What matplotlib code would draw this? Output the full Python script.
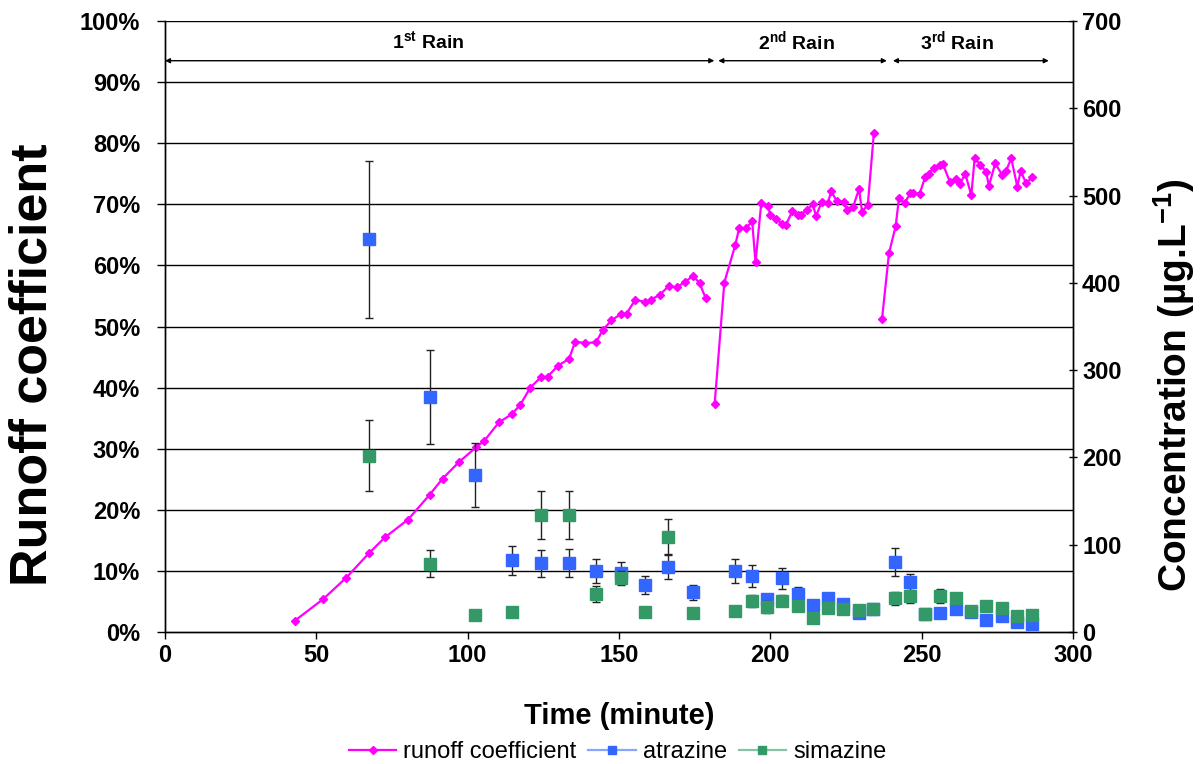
import numpy as np
import matplotlib
matplotlib.use("Agg")
import matplotlib.pyplot as plt
from matplotlib.lines import Line2D

plt.rcParams['font.family'] = ['Liberation Sans', 'DejaVu Sans']
plt.rcParams['mathtext.fontset'] = 'custom'
plt.rcParams['mathtext.rm'] = 'Liberation Sans'
plt.rcParams['mathtext.bf'] = 'Liberation Sans:bold'

# ---- runoff coefficient (%), three rain events ----
rain1_t = [42.9, 52.3, 59.9, 67.4, 72.7, 80.3, 87.5, 91.7, 97.1, 102.7, 105.5, 110.3, 114.7, 117.4,
           120.7, 124.2, 126.4, 129.9, 133.5, 135.5, 138.9, 142.4, 144.6, 147.5, 150.5, 152.5, 155.4,
           158.5, 160.6, 163.5, 166.4, 169.0, 171.8, 174.5, 176.6, 178.6]
rain1_rc = [1.85, 5.4, 8.9, 12.9, 15.5, 18.4, 22.5, 25.1, 27.8, 30.2, 31.3, 34.3, 35.7, 37.2,
            40.0, 41.7, 41.8, 43.6, 44.7, 47.5, 47.3, 47.4, 49.4, 51.0, 52.0, 52.1, 54.4,
            54.0, 54.4, 55.2, 56.6, 56.4, 57.3, 58.3, 57.1, 54.7]
rain2_t = [181.6, 184.8, 188.4, 189.7, 192.0, 194.0, 195.1, 197.0, 199.1, 200.0, 202.0, 203.9, 205.1,
           207.3, 209.0, 210.1, 212.1, 214.0, 215.1, 217.0, 219.0, 220.1, 221.9, 224.2, 225.3, 227.3,
           229.3, 230.3, 232.2, 234.2]
rain2_rc = [37.3, 57.2, 63.3, 66.1, 66.1, 67.2, 60.5, 70.2, 69.8, 68.3, 67.6, 66.8, 66.6,
            68.9, 68.3, 68.3, 69.1, 70.0, 68.1, 70.4, 70.2, 72.1, 70.6, 70.4, 69.1, 69.5,
            72.5, 68.8, 69.9, 81.6]
rain3_t = [236.9, 239.2, 241.4, 242.5, 244.4, 246.2, 247.3, 249.3, 251.2, 252.3, 254.2, 255.9, 257.0,
           259.3, 261.5, 262.6, 264.4, 266.4, 267.5, 269.4, 271.3, 272.2, 274.3, 276.6, 277.8, 279.6,
           281.6, 282.7, 284.5, 286.6]
rain3_rc = [51.2, 62.0, 66.4, 71.0, 70.2, 71.8, 71.9, 71.7, 74.5, 75.0, 76.0, 76.4, 76.6,
            73.7, 74.1, 73.3, 75.0, 71.5, 77.5, 76.5, 75.3, 73.0, 76.7, 74.8, 75.4, 77.5,
            72.9, 75.4, 73.5, 74.4]

# ---- concentrations (ug/L) ----
conc_t = [67.4, 87.5, 102.5, 114.6, 124.1, 133.4, 142.4, 150.5, 158.5, 166.3, 174.5, 188.3, 193.8,
          199.0, 203.7, 209.0, 214.0, 218.9, 224.1, 229.2, 234.0, 241.2, 246.1, 251.0, 256.0, 261.2,
          266.3, 271.2, 276.4, 281.4, 286.3]
atrazine = [450, 269, 180, 82, 79, 79, 70, 68, 53.5, 75, 45.5, 70, 64,
            38, 61.5, 44, 30.5, 39, 32, 21.5, 26, 80.5, 57, 20.5, 22, 26,
            23, 14, 18, 11, 9]
atrazine_err = [90, 54, 37, 16.5, 15.5, 16, 14, 12, 10.5, 14, 8.5, 14, 12.5,
                3, 12, 7.5, 2, 6, 2, 2, 2, 16, 10, 2, 2, 2,
                2, 2, 2, 2, 2]
simazine = [202, 78, 19.5, 22.5, 134, 134, 43.5, 61.5, 23, 109, 21.5, 24, 35.5,
            28.5, 36, 29.5, 16, 28, 26, 25, 26, 38.5, 41, 20.5, 41, 39,
            24.5, 30, 27.5, 18, 19.5]
simazine_err = [40.5, 15.5, 2, 2, 27, 27, 9.5, 8, 2, 21, 2, 2, 7,
                7, 6.5, 5, 2, 5, 2, 2, 2, 7.5, 7.5, 2, 8, 6,
                2, 2, 2, 2, 2]

rain_labels = ['1$^{\\mathbf{st}}$ Rain', '2$^{\\mathbf{nd}}$ Rain', '3$^{\\mathbf{rd}}$ Rain']
rain_spans = [(0, 181.5), (182.8, 238.5), (240.5, 292.0)]
rain_text_x = [87, 208.5, 261.6]

MAGENTA = '#FF00FF'
BLUE = '#3366FF'
GREEN = '#339966'

fig = plt.figure(figsize=(12.04, 7.64), dpi=100)
ax = fig.add_axes([165/1204, 1-632/764, (1073-165)/1204, (632-21)/764])
ax2 = ax.twinx()

# line with gaps between rains
t_all = rain1_t + [np.nan] + rain2_t + [np.nan] + rain3_t
rc_all = rain1_rc + [np.nan] + rain2_rc + [np.nan] + rain3_rc
ax.plot(t_all, rc_all, color=MAGENTA, lw=1.6, marker='D', ms=4, mec=MAGENTA, mfc=MAGENTA, zorder=3)

ax.set_xlim(0, 300)
ax.set_ylim(0, 100)
ax.set_yticks(np.arange(0, 101, 10))
ax.set_yticklabels([f'{v}%' for v in range(0, 101, 10)])
ax.set_xticks(np.arange(0, 301, 50))
for y in range(10, 101, 10):
    ax.axhline(y, color='black', lw=1.0, zorder=1)

ax2.set_ylim(0, 700)
ax2.set_yticks(np.arange(0, 701, 100))

ax2.errorbar(conc_t, atrazine, yerr=atrazine_err, fmt='s', color=BLUE, ms=8, mec=BLUE,
             ecolor='#222222', elinewidth=1.0, capsize=2.8, capthick=1.0, zorder=4)
ax2.errorbar(conc_t, simazine, yerr=simazine_err, fmt='s', color=GREEN, ms=8, mec=GREEN,
             ecolor='#222222', elinewidth=1.0, capsize=2.8, capthick=1.0, zorder=5)

for a in (ax, ax2):
    a.spines['top'].set_visible(False)
    for s in ('left', 'right', 'bottom'):
        a.spines[s].set_linewidth(1.0)
        a.spines[s].set_color('black')

ax.tick_params(axis='x', labelsize=17, width=1, length=5, direction='out', pad=3.5)
ax.tick_params(axis='y', labelsize=17, width=1, length=6, direction='out', pad=12)
ax2.tick_params(axis='y', labelsize=17, width=1, length=6, direction='inout')
for lab in ax.get_xticklabels() + ax.get_yticklabels() + ax2.get_yticklabels():
    lab.set_fontweight('bold')

ax.set_xlabel('Time (minute)', fontsize=21, fontweight='bold', labelpad=25.5)
ax.set_ylabel('Runoff coefficient', fontsize=37.5, fontweight='bold')
ax.yaxis.set_label_coords(-0.118, 0.437)
ax2.set_ylabel('Concentration (µg.L$^{\\mathbf{-1}}$)', fontsize=28, fontweight='bold')
ax2.yaxis.set_label_coords(1.086, 0.404)

# rain annotations
for (x0, x1), lab, tx in zip(rain_spans, rain_labels, rain_text_x):
    ax.annotate('', xy=(x0, 93.5), xytext=(x1, 93.5),
                arrowprops=dict(arrowstyle='<|-|>', color='black', lw=1.0,
                                mutation_scale=7, shrinkA=0, shrinkB=0))
    ax.text(tx, 96.6, lab, ha='center', va='center', fontsize=14, fontweight='bold')

handles = [
    Line2D([], [], color=MAGENTA, lw=1.6, marker='D', ms=4),
    Line2D([], [], color='#88A6FF', lw=1.6, marker='s', ms=6, mfc=BLUE, mec=BLUE),
    Line2D([], [], color='#88C2A6', lw=1.6, marker='s', ms=6, mfc=GREEN, mec=GREEN),
]
fig.legend(handles, ['runoff coefficient', 'atrazine', 'simazine'], loc='center',
           bbox_to_anchor=(0.513, 0.0157), ncol=3, frameon=False, fontsize=17,
           handlelength=2.0, handletextpad=0.3, columnspacing=0.5, borderpad=0.1)

fig.savefig('out.png', dpi=100)
